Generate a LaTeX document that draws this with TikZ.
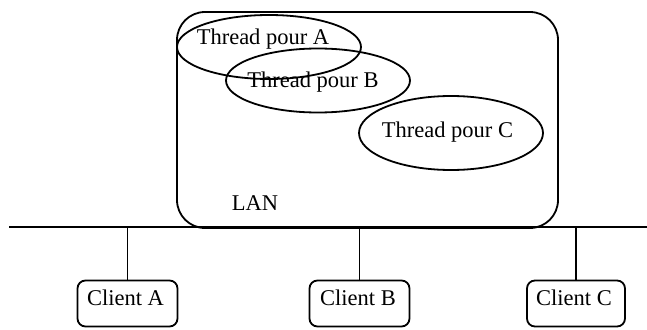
\documentclass[tikz,border=0pt]{standalone}
\usepackage{fontspec}
\setmainfont{Liberation Serif}
\usetikzlibrary{shapes.geometric}
\begin{document}
\begin{tikzpicture}[x=1pt,y=-1pt,
  line width=1.8pt,
  txt/.style={inner sep=0pt,anchor=base,font=\fontsize{22.5}{27}\selectfont},
  threadell/.style={draw,ellipse,inner sep=0pt,minimum width=184pt,minimum height=64pt},
  clientbox/.style={draw,rounded corners=8pt,inner sep=0pt,minimum width=100pt,minimum height=46pt},
  serverbox/.style={draw,rounded corners=28pt,inner sep=0pt,minimum width=381pt,minimum height=216pt}]
\useasboundingbox (0,0) rectangle (647,329);

% server machine on the network
\node[serverbox] (server) at (367.5,120) {};
\node[txt] (lan) at (255,210) {LAN};

% one thread per client
\node[threadell] (thA) at (269,47) {};
\node[threadell] (thB) at (318,80.5) {};
\node[threadell,minimum height=74pt] (thC) at (451,133) {};
\node[txt] (tA) at (263,45) {Thread pour A};
\node[txt] (tB) at (313,87) {Thread pour B};
\node[txt] (tC) at (447.5,137) {Thread pour C};

% network bus
\coordinate (busW) at (9,227);
\coordinate (busE) at (647,227);
\draw (busW) -- (busE);

% clients
\node[clientbox] (cA) at (127.5,303.5) {};
\node[clientbox] (cB) at (359.5,303.5) {};
\node[clientbox,minimum width=98pt] (cC) at (576,303.5) {};
\node[txt] (lA) at (125.5,305) {Client A};
\node[txt] (lB) at (358,305) {Client B};
\node[txt] (lC) at (574,305) {Client C};

\draw (cA.north) -- (cA.north |- busW);
\draw (cB.north) -- (cB.north |- busW);
\draw (cC.north) -- (cC.north |- busW);
\end{tikzpicture}
\end{document}
